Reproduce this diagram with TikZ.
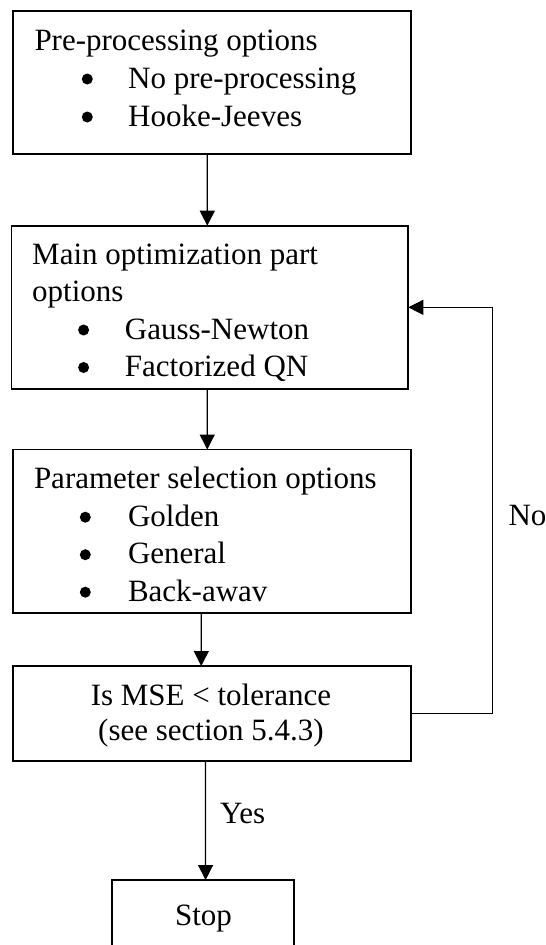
\documentclass[tikz,border=0pt]{standalone}
\usepackage{fontspec}
\setmainfont{Liberation Serif}
\usetikzlibrary{arrows.meta}
\tikzset{
  box/.style={draw, line width=1.7pt, rectangle, inner sep=0pt, outer sep=0pt},
  txt/.style={anchor=base west, inner sep=0pt, font=\fontsize{31}{37.5}\selectfont},
  ctxt/.style={anchor=base, inner sep=0pt, font=\fontsize{31}{37.5}\selectfont},
  bul/.style={circle, fill, inner sep=0pt, minimum size=11pt},
  arr/.style={line width=1.3pt, -{Triangle[length=15pt,width=15pt]}},
}
\begin{document}
\begin{tikzpicture}[x=1pt,y=-1pt]
\clip (0,0) rectangle (546,945);
\fill[white] (0,0) rectangle (546,945);
% boxes
\node[box, minimum width=397.7pt, minimum height=143.6pt] (b1) at (212.15,82.5) {};
\node[box, minimum width=396.8pt, minimum height=163.3pt] (b2) at (209.9,307.35) {};
\node[box, minimum width=397.7pt, minimum height=163.8pt] (b3) at (212.05,531.4) {};
\node[box, minimum width=397.5pt, minimum height=94.7pt] (b4) at (211.95,713.35) {};
\node[box, minimum width=182.6pt, minimum height=100pt] (stop) at (203,930) {};
% box 1 text
\node[txt] (t1) at (34.3,50.7) {Pre-processing options};
\node[bul] (d11) at (87.3,79) {};
\node[txt] (t11) at (128,88) {No pre-processing};
\node[bul] (d12) at (87.3,117) {};
\node[txt] (t12) at (128,126) {Hooke-Jeeves};
% box 2 text
\node[txt] (t2) at (32,264) {Main optimization part};
\node[txt] (t2b) at (32,301.5) {options};
\node[bul] (d21) at (83.6,330) {};
\node[txt] (t21) at (124.7,339) {Gauss-Newton};
\node[bul] (d22) at (83.6,367.5) {};
\node[txt] (t22) at (124.7,376.5) {Factorized QN};
% box 3 text
\node[txt] (t3) at (33.8,488.7) {Parameter selection options};
\node[bul] (d31) at (85.3,517.2) {};
\node[txt] (t31) at (127.8,526.2) {Golden};
\node[bul] (d32) at (85.3,554.7) {};
\node[txt] (t32) at (127.8,563.7) {General};
\node[bul] (d33) at (85.3,592.2) {};
\node[txt] (t33) at (127.8,601.2) {Back-awav};
% box 4 text
\node[ctxt] (t4) at (211,705) {Is MSE < tolerance};
\node[ctxt] (t4b) at (211,740) {(see section 5.4.3)};
% stop text
\node[ctxt] (ts) at (203.5,925) {Stop};
% labels
\node[txt] (no) at (508.3,525) {No};
\node[txt] (yes) at (220,823.3) {Yes};
% connectors
\draw[arr] ([xshift=-4.9pt]b1.south) -- ([xshift=-2.6pt]b2.north);
\draw[arr] ([xshift=-2.7pt]b2.south) -- ([xshift=-4.8pt]b3.north);
\draw[arr] ([xshift=-10.7pt]b3.south) -- ([xshift=-10.7pt]b4.north);
\draw[arr] ([xshift=-6.4pt]b4.south) -- ([xshift=2.6pt]stop.north);
\draw[arr] (b4.east) -- ++(82,0) |- (b2.east);
\end{tikzpicture}
\end{document}
